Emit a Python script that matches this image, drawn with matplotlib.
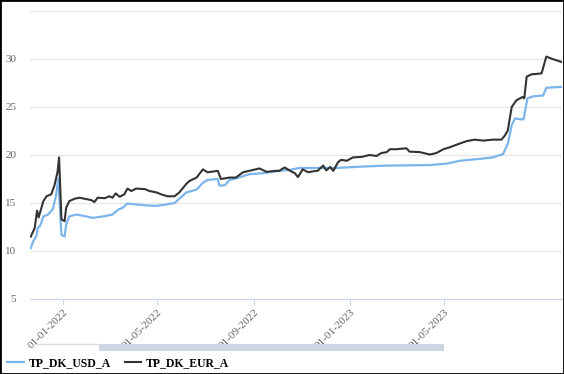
import numpy as np
import pandas as pd
import matplotlib
matplotlib.use("Agg")
from matplotlib import pyplot as plt
from matplotlib.patches import Rectangle
from matplotlib.lines import Line2D

# series
usd_dates = ["2021-11-21", "2021-11-24", "2021-11-28", "2021-11-30", "2021-12-03",
             "2021-12-07", "2021-12-13", "2021-12-19", "2021-12-23", "2021-12-26",
             "2021-12-30", "2022-01-03", "2022-01-05", "2022-01-09", "2022-01-18",
             "2022-01-31", "2022-02-08", "2022-02-21", "2022-03-05", "2022-03-12",
             "2022-03-18", "2022-03-24", "2022-04-04", "2022-04-17", "2022-04-30",
             "2022-05-12", "2022-05-23", "2022-05-29", "2022-06-07", "2022-06-20",
             "2022-06-28", "2022-07-04", "2022-07-17", "2022-07-19", "2022-07-26",
             "2022-08-01", "2022-08-09", "2022-08-18", "2022-08-26", "2022-09-12",
             "2022-09-29", "2022-10-16", "2022-10-29", "2022-11-19", "2022-12-15",
             "2023-01-18", "2023-02-19", "2023-04-13", "2023-05-04", "2023-05-21",
             "2023-06-16", "2023-07-02", "2023-07-15", "2023-07-21", "2023-07-26",
             "2023-07-30", "2023-08-10", "2023-08-15", "2023-08-22", "2023-09-04",
             "2023-09-08", "2023-09-27"]
usd_vals = [10.3, 11.0, 11.55, 12.4, 12.65,
            13.6, 13.8, 14.35, 15.7, 17.5,
            11.7, 11.5, 12.75, 13.6, 13.8,
            13.6, 13.45, 13.6, 13.8, 14.3,
            14.5, 14.95, 14.85, 14.75, 14.7,
            14.85, 15.0, 15.45, 16.1, 16.4,
            17.1, 17.4, 17.5, 16.8, 16.85,
            17.4, 17.55, 17.8, 18.0, 18.1,
            18.3, 18.45, 18.65, 18.65, 18.65,
            18.8, 18.9, 18.95, 19.1, 19.4,
            19.6, 19.75, 20.1, 21.15, 23.1,
            23.8, 23.7, 25.9, 26.1, 26.2,
            27.0, 27.1]

eur_dates = ["2021-11-21", "2021-11-26", "2021-11-29", "2021-12-01", "2021-12-07",
             "2021-12-11", "2021-12-17", "2021-12-21", "2021-12-25", "2021-12-27",
             "2021-12-30", "2022-01-03", "2022-01-05", "2022-01-09", "2022-01-16",
             "2022-01-22", "2022-01-31", "2022-02-06", "2022-02-10", "2022-02-14",
             "2022-02-23", "2022-03-01", "2022-03-05", "2022-03-09", "2022-03-14",
             "2022-03-20", "2022-03-24", "2022-03-29", "2022-04-04", "2022-04-15",
             "2022-04-21", "2022-04-30", "2022-05-06", "2022-05-14", "2022-05-23",
             "2022-05-29", "2022-06-07", "2022-06-11", "2022-06-20", "2022-06-28",
             "2022-07-04", "2022-07-17", "2022-07-21", "2022-08-01", "2022-08-09",
             "2022-08-18", "2022-08-26", "2022-09-08", "2022-09-17", "2022-09-29",
             "2022-10-03", "2022-10-10", "2022-10-16", "2022-10-23", "2022-10-27",
             "2022-11-02", "2022-11-09", "2022-11-15", "2022-11-21", "2022-11-28",
             "2022-12-02", "2022-12-07", "2022-12-11", "2022-12-17", "2022-12-21",
             "2022-12-28", "2023-01-05", "2023-01-16", "2023-01-26", "2023-02-04",
             "2023-02-10", "2023-02-17", "2023-02-21", "2023-03-01", "2023-03-14",
             "2023-03-18", "2023-03-31", "2023-04-13", "2023-04-21", "2023-04-30",
             "2023-05-08", "2023-05-21", "2023-05-30", "2023-06-09", "2023-06-20",
             "2023-07-02", "2023-07-13", "2023-07-17", "2023-07-21", "2023-07-26",
             "2023-08-01", "2023-08-09", "2023-08-11", "2023-08-14", "2023-08-20",
             "2023-09-02", "2023-09-08", "2023-09-16", "2023-09-27"]
eur_vals = [11.5, 12.4, 14.2, 13.5, 15.2,
            15.7, 15.9, 16.8, 18.2, 19.75,
            13.3, 13.1, 14.5, 15.2, 15.45,
            15.55, 15.4, 15.3, 15.1, 15.55,
            15.5, 15.7, 15.55, 16.0, 15.65,
            15.9, 16.5, 16.25, 16.5, 16.45,
            16.25, 16.1, 15.9, 15.7, 15.7,
            16.1, 17.0, 17.3, 17.65, 18.5,
            18.2, 18.35, 17.5, 17.65, 17.65,
            18.2, 18.35, 18.6, 18.25, 18.35,
            18.35, 18.7, 18.4, 18.1, 17.7,
            18.5, 18.2, 18.3, 18.35, 18.9,
            18.4, 18.75, 18.35, 19.25, 19.5,
            19.4, 19.75, 19.8, 20.0, 19.9,
            20.2, 20.3, 20.6, 20.6, 20.7,
            20.35, 20.3, 20.05, 20.2, 20.6,
            20.8, 21.2, 21.45, 21.6, 21.5,
            21.6, 21.6, 22.0, 22.55, 25.0,
            25.7, 26.05, 25.9, 28.15, 28.4,
            28.5, 30.25, 30.0, 29.7]

tick_dates = ["2022-01-01", "2022-05-01", "2022-09-01", "2023-01-01", "2023-05-01"]
tick_labels = ["01-01-2022", "01-05-2022", "01-09-2022", "01-01-2023", "01-05-2023"]
y_ticks = [5, 10, 15, 20, 25, 30, 35]
y_labels = ["5", "10", "15", "20", "25", "30", ""]

plt.rcParams['font.family'] = ['Liberation Serif', 'DejaVu Serif']

W, H = 564, 374
fig = plt.figure(figsize=(W / 100, H / 100), dpi=100)
ax = fig.add_axes([30 / W, 1 - 299 / H, (562 - 30) / W, (299 - 11) / H])

usd_line, = ax.plot(pd.to_datetime(usd_dates), usd_vals, color="#7cb5ec", lw=1.6,
                    label="TP_DK_USD_A", zorder=3)
eur_line, = ax.plot(pd.to_datetime(eur_dates), eur_vals, color="#333333", lw=1.5,
                    label="TP_DK_EUR_A", zorder=4)

ax.set_xlim(pd.Timestamp("2021-11-20"), pd.Timestamp("2023-09-28"))
ax.set_ylim(5, 35)
ax.set_yticks(y_ticks)
ax.set_yticklabels(y_labels)
ax.set_xticks(pd.to_datetime(tick_dates))
ax.set_xticklabels(tick_labels, rotation=45, ha="right", rotation_mode="anchor")

ax.grid(axis="y", color="#e6e6e6", lw=1)
ax.set_axisbelow(True)
for s in ["top", "right", "left"]:
    ax.spines[s].set_visible(False)
ax.spines["bottom"].set_color("#ccd6eb")
ax.tick_params(axis="y", length=0, pad=10, labelsize=8, labelcolor="#666666")
ax.tick_params(axis="x", length=4, color="#ccd6eb", pad=2, labelsize=8,
               labelcolor="#666666")

# navigator bar under the axis
fig.add_artist(Line2D([33 / W, 99 / W], [1 - 344 / H, 1 - 344 / H],
                      color="#dddddd", lw=1))
fig.add_artist(Rectangle((99 / W, 1 - 351 / H), (444 - 99) / W, 7 / H,
                         facecolor="#cdd4e4", edgecolor="none"))

fig.legend(handles=[usd_line, eur_line], loc="lower left", bbox_to_anchor=(0.0, -0.005),
           ncol=2, frameon=False, handlelength=1.4, handletextpad=0.4,
           columnspacing=1.2, prop={"size": 8.5, "weight": "bold"},
           borderaxespad=0.2)

# frame around the whole picture
fig.add_artist(Rectangle((0, 0), 1, 1, transform=fig.transFigure, fill=False,
                         edgecolor="black", lw=2))

fig.savefig("out.png", dpi=100)
